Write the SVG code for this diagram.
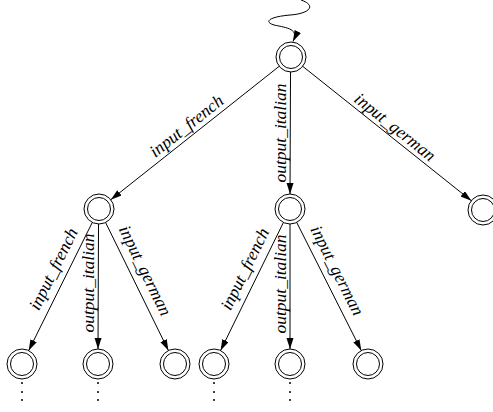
<svg xmlns="http://www.w3.org/2000/svg" width="493" height="412" viewBox="0 0 493 412">
  <style>
    .ring { fill: none; stroke: #000; stroke-width: 1; }
    .edge { fill: none; stroke: #000; stroke-width: 1; marker-end: url(#head); }
    .lbl { font-family: "Liberation Serif", "DejaVu Serif", serif; font-style: italic; font-size: 17.5px; fill: #000; text-anchor: middle; }
    .dot { fill: #000; }
  </style>
  <defs>
    <marker id="head" markerUnits="userSpaceOnUse" markerWidth="12" markerHeight="8" refX="11" refY="3.5" orient="auto">
      <path d="M0,0 L11,3.5 L0,7 z" fill="#000"/>
    </marker>
    <g id="state">
      <circle r="15" class="ring"/>
      <circle r="11.5" class="ring"/>
    </g>
    <g id="more">
      <circle cx="0" cy="19" r="1" class="dot"/>
      <circle cx="0" cy="28" r="1" class="dot"/>
      <circle cx="0" cy="36" r="1" class="dot"/>
    </g>
  </defs>

  <!-- transitions -->
  <g id="connectors">
    <path class="edge" d="M301,0 C318,6 308,14 290,15 C268,17 264,22 274,25 C288,28 299,29 293,41.5"/>

    <line class="edge" x1="279.2" y1="66.3" x2="110.8" y2="199.7"/>
    <line class="edge" x1="290.5" y1="72" x2="290" y2="194"/>
    <line class="edge" x1="302.7" y1="66.3" x2="471.3" y2="200.7"/>

    <line class="edge" x1="92.3" y1="222.4" x2="28.7" y2="350.6"/>
    <line class="edge" x1="98.5" y1="224" x2="98" y2="349"/>
    <line class="edge" x1="105.6" y1="222.5" x2="168.4" y2="350.5"/>

    <line class="edge" x1="283.4" y1="222.5" x2="220.6" y2="350.5"/>
    <line class="edge" x1="290" y1="224" x2="290" y2="349"/>
    <line class="edge" x1="296.7" y1="222.4" x2="361.3" y2="350.6"/>

    <text class="lbl" transform="translate(190,130.5) rotate(-38.4)">input_french</text>
    <text class="lbl" transform="translate(285.5,133) rotate(-90)">output_italian</text>
    <text class="lbl" transform="translate(391.5,131.5) rotate(38.55)">input_german</text>

    <text class="lbl" transform="translate(58.5,271.5) rotate(-63.6)">input_french</text>
    <text class="lbl" transform="translate(93.5,283) rotate(-90)">output_italian</text>
    <text class="lbl" transform="translate(140,273) rotate(63.9)">input_german</text>

    <text class="lbl" transform="translate(250,271.5) rotate(-63.9)">input_french</text>
    <text class="lbl" transform="translate(285.5,284) rotate(-90)">output_italian</text>
    <text class="lbl" transform="translate(332,273) rotate(63.3)">input_german</text>
  </g>

  <!-- states -->
  <g id="root"><use href="#state" x="291" y="57"/></g>
  <g id="fr"><use href="#state" x="99" y="209"/></g>
  <g id="it"><use href="#state" x="290" y="209"/></g>
  <g id="de"><use href="#state" x="483" y="210"/></g>

  <g id="fr-fr"><use href="#state" x="22" y="364"/><use href="#more" x="22" y="364"/></g>
  <g id="fr-it"><use href="#state" x="98" y="364"/><use href="#more" x="98" y="364"/></g>
  <g id="fr-de"><use href="#state" x="175" y="364"/></g>

  <g id="it-fr"><use href="#state" x="214" y="364"/><use href="#more" x="214" y="364"/></g>
  <g id="it-it"><use href="#state" x="290" y="364"/><use href="#more" x="290" y="364"/></g>
  <g id="it-de"><use href="#state" x="368" y="364"/></g>
</svg>
